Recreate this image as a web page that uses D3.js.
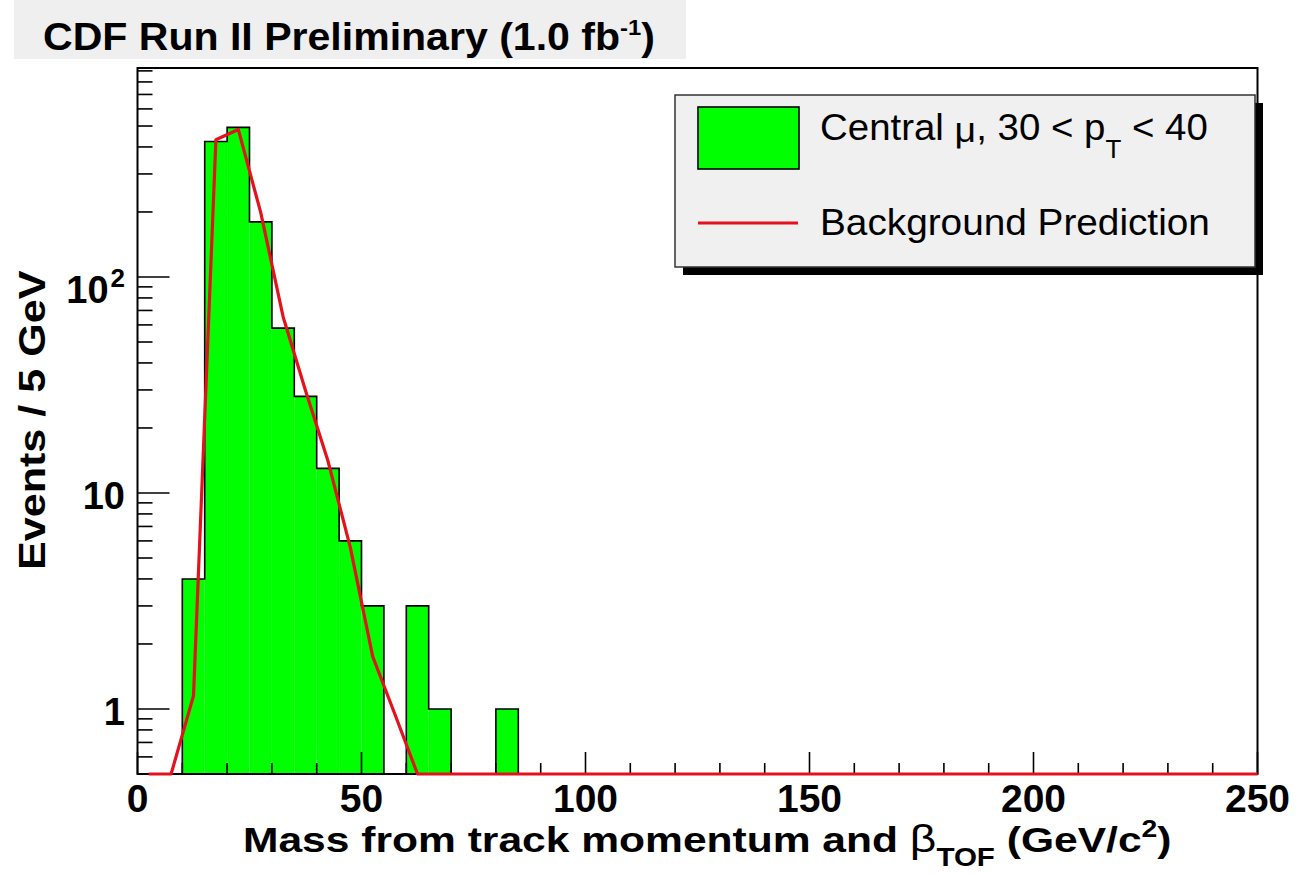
<!DOCTYPE html>
<html>
<head>
<meta charset="utf-8">
<script src="https://cdn.jsdelivr.net/npm/d3@7"></script>
<style>
  body { margin: 0; background: #ffffff; }
  svg { display: block; }
  text { font-family: "Liberation Sans", Arial, Helvetica, sans-serif; fill: #000; }
</style>
</head>
<body>
<svg id="chart" width="1297" height="875"></svg>
<script>
// Mass histogram, 5 GeV bins from 0 to 250 GeV/c^2
const binWidth = 5;
const massRange = [0, 250];

// Observed events per bin (central muons, 30 < pT < 40)
const observedCounts = [
  0, 0, 4, 424, 493, 180, 58, 28, 13, 6,
  3, 0, 3, 1, 0, 0, 1, 0, 0, 0,
  0, 0, 0, 0, 0, 0, 0, 0, 0, 0,
  0, 0, 0, 0, 0, 0, 0, 0, 0, 0,
  0, 0, 0, 0, 0, 0, 0, 0, 0, 0
];

// Background prediction per bin (last entry is the overflow bin, clipped by the frame)
const backgroundPrediction = [
  0, 0, 1.15, 432, 482, 199, 65.5, 29.8, 14.1, 5.6,
  1.75, 0.94, 0.4, 0, 0, 0, 0, 0, 0, 0,
  0, 0, 0, 0, 0, 0, 0, 0, 0, 0,
  0, 0, 0, 0, 0, 0, 0, 0, 0, 0,
  0, 0, 0, 0, 0, 0, 0, 0, 0, 0,
  0
];

const yRange = [0.5, 928];
const xTickValues = [0, 50, 100, 150, 200, 250];
const yTickLabels = [
  { value: 1, base: "1", exp: "" },
  { value: 10, base: "10", exp: "" },
  { value: 100, base: "10", exp: "2" }
];

const titleText = "CDF Run II Preliminary";
const legendEntries = ["Central", "Background Prediction"];

const svg = d3.select("#chart");
const frame = { left: 137.5, right: 1257.5, top: 68, bottom: 774 };

const x = d3.scaleLinear().domain(massRange).range([frame.left, frame.right]);
const y = d3.scaleLog().domain(yRange).range([frame.bottom, frame.top]);
const yc = v => y(Math.max(v, yRange[0]));

svg.append("defs").append("clipPath").attr("id", "frameClip")
  .append("rect")
  .attr("x", frame.left).attr("y", frame.top - 2)
  .attr("width", frame.right - frame.left).attr("height", frame.bottom - frame.top + 4);

// Stretch factor so a text node spans the given width
function fitWidth(textSel, width) {
  const w = textSel.node().getBBox().width;
  return width / w;
}

// ---------- title pad ----------
svg.append("rect")
  .attr("x", 14).attr("y", 0).attr("width", 672).attr("height", 59)
  .attr("fill", "#efefef");

const titleG = svg.append("g");
const title = titleG.append("text")
  .attr("font-size", 38).attr("font-weight", "bold");
title.append("tspan").text(titleText + " (1.0 fb");
title.append("tspan").attr("font-size", 22).attr("dy", -15).text("-1");
title.append("tspan").attr("dy", 15).text(")");
titleG.attr("transform", `translate(43,50) scale(${fitWidth(title, 612)},1)`);

// ---------- histogram ----------
const plot = svg.append("g");

plot.selectAll("rect.bin")
  .data(observedCounts.map((c, i) => ({ lo: i * binWidth, hi: (i + 1) * binWidth, c })).filter(d => d.c > 0))
  .join("rect")
  .attr("class", "bin")
  .attr("x", d => x(d.lo))
  .attr("y", d => y(d.c))
  .attr("width", d => x(d.hi) - x(d.lo))
  .attr("height", d => frame.bottom - y(d.c))
  .attr("fill", "#00ff00");

// step outline across all bins
const stepPts = [[x(massRange[0]), frame.bottom]];
observedCounts.forEach((c, i) => {
  stepPts.push([x(i * binWidth), yc(c)]);
  stepPts.push([x((i + 1) * binWidth), yc(c)]);
});
stepPts.push([x(massRange[1]), frame.bottom]);
plot.append("path")
  .attr("d", d3.line()(stepPts))
  .attr("fill", "none")
  .attr("stroke", "#000")
  .attr("stroke-width", 1.6);

// ---------- frame ----------
svg.append("rect")
  .attr("x", frame.left).attr("y", frame.top)
  .attr("width", frame.right - frame.left).attr("height", frame.bottom - frame.top)
  .attr("fill", "none").attr("stroke", "#000").attr("stroke-width", 2);

// ---------- x axis ticks (pointing into the frame) ----------
const xMinor = d3.range(massRange[0], massRange[1] + 1, 10);
svg.append("g").selectAll("line")
  .data(xMinor)
  .join("line")
  .attr("x1", d => x(d)).attr("x2", d => x(d))
  .attr("y1", frame.bottom)
  .attr("y2", d => frame.bottom - (xTickValues.includes(d) ? 22 : 11))
  .attr("stroke", "#000").attr("stroke-width", 1.6);

svg.append("g").selectAll("text")
  .data(xTickValues)
  .join("text")
  .attr("x", d => x(d))
  .attr("y", 812)
  .attr("text-anchor", "middle")
  .attr("font-size", 39).attr("font-weight", "bold")
  .text(d => d);

// ---------- y axis ticks (log) ----------
const yTicks = [];
[0.1, 1, 10, 100].forEach(dec => {
  for (let k = 1; k <= 9; k++) {
    const v = k * dec;
    if (v >= yRange[0] && v <= yRange[1]) yTicks.push({ v, major: k === 1 });
  }
});
svg.append("g").selectAll("line")
  .data(yTicks)
  .join("line")
  .attr("x1", frame.left)
  .attr("x2", d => frame.left + (d.major ? 32 : 15))
  .attr("y1", d => y(d.v)).attr("y2", d => y(d.v))
  .attr("stroke", "#000").attr("stroke-width", 1.6);

yTickLabels.forEach(t => {
  const lbl = svg.append("text")
    .attr("x", 125)
    .attr("y", y(t.value) + (t.exp ? 26 : 16))
    .attr("text-anchor", "end")
    .attr("font-size", 38).attr("font-weight", "bold");
  lbl.append("tspan").text(t.base);
  if (t.exp) lbl.append("tspan").attr("font-size", 26).attr("dy", -16).attr("dx", 2).text(t.exp);
});

// ---------- background prediction curve ----------
svg.append("path")
  .attr("clip-path", "url(#frameClip)")
  .attr("d", d3.line()
    .x((d, i) => x((i + 0.5) * binWidth))
    .y(d => yc(d))(backgroundPrediction))
  .attr("fill", "none")
  .attr("stroke", "#e3121c")
  .attr("stroke-width", 3.2)
  .attr("stroke-linejoin", "round");

// ---------- axis titles ----------
const xTitleG = svg.append("g");
const xTitle = xTitleG.append("text").attr("font-size", 36).attr("font-weight", "bold");
xTitle.append("tspan").text("Mass from track momentum and ");
xTitle.append("tspan").attr("font-weight", "normal").attr("font-size", 39).text("β");
xTitle.append("tspan").attr("font-size", 25).attr("dy", 14).text("TOF");
xTitle.append("tspan").attr("dy", -14).text(" (GeV/c");
xTitle.append("tspan").attr("font-size", 24).attr("dy", -15).text("2");
xTitle.append("tspan").attr("dy", 15).text(")");
xTitleG.attr("transform", `translate(243,852) scale(${fitWidth(xTitle, 929)},1)`);

const yTitleG = svg.append("g");
const yTitle = yTitleG.append("text").attr("font-size", 37).attr("font-weight", "bold")
  .text("Events / 5 GeV");
yTitleG.attr("transform", `translate(45,570) rotate(-90) scale(${fitWidth(yTitle, 300)},1)`);

// ---------- legend ----------
const leg = { x: 675, y: 95, w: 580, h: 172 };
svg.append("rect")
  .attr("x", leg.x + 8).attr("y", leg.y + 8)
  .attr("width", leg.w).attr("height", leg.h)
  .attr("fill", "#000");
svg.append("rect")
  .attr("x", leg.x).attr("y", leg.y)
  .attr("width", leg.w).attr("height", leg.h)
  .attr("fill", "#f0f0f0").attr("stroke", "#333").attr("stroke-width", 1.5);

svg.append("rect")
  .attr("x", 698).attr("y", 107).attr("width", 101).attr("height", 62)
  .attr("fill", "#00ff00").attr("stroke", "#000").attr("stroke-width", 1.6);
svg.append("line")
  .attr("x1", 698).attr("x2", 798).attr("y1", 223).attr("y2", 223)
  .attr("stroke", "#e3121c").attr("stroke-width", 3.2);

const l1G = svg.append("g");
const l1 = l1G.append("text").attr("font-size", 37);
l1.append("tspan").text(legendEntries[0] + " ");
l1.append("tspan").attr("font-size", 36).attr("dy", 2).text("μ");
l1.append("tspan").attr("dy", -2).text(", 30 < p");
l1.append("tspan").attr("font-size", 25).attr("dy", 18).text("T");
l1.append("tspan").attr("dy", -18).text(" < 40");
l1G.attr("transform", `translate(820,140) scale(${fitWidth(l1, 388)},1)`);

const l2G = svg.append("g");
const l2 = l2G.append("text").attr("font-size", 37).text(legendEntries[1]);
l2G.attr("transform", `translate(820,235) scale(${fitWidth(l2, 390)},1)`);
</script>
</body>
</html>
